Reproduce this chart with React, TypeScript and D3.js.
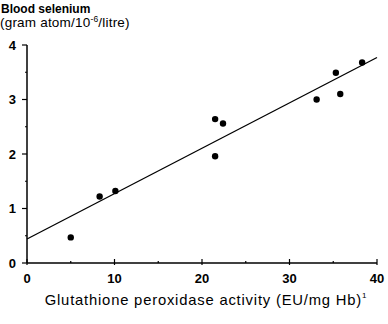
import React from "react";
import * as d3 from "d3";

const xValues = [5.0, 8.3, 10.1, 21.5, 22.4, 21.5, 33.1, 35.3, 35.8, 38.3];
const yValues = [0.47, 1.22, 1.32, 2.64, 2.56, 1.96, 3.0, 3.49, 3.1, 3.68];
const fitX = [0, 40];
const fitY = [0.44, 3.77];
const xTicks = [0, 10, 20, 30, 40];
const xMinor = [5, 15, 25, 35];
const yTicks = [0, 1, 2, 3, 4];
const yMinor = [0.5, 1.5, 2.5, 3.5];

export default function App() {
  const W = 388, H = 324;
  const x = d3.scaleLinear().domain([0, 40]).range([27, 377]);
  const y = d3.scaleLinear().domain([0, 4]).range([263, 45]);
  const font = "'Liberation Sans', Arial, sans-serif";
  const line = d3.line<number>().x((d) => x(fitX[d])).y((d) => y(fitY[d]));
  return (
    <svg width={W} height={H} style={{ position: "absolute", left: 0, top: 0, background: "#fff" }}>
      <text x={1} y={13} fontFamily={font} fontSize={12} fontWeight="bold" fill="#000">Blood selenium</text>
      <text x={0} y={27} fontFamily={font} fontSize={13.5} fill="#000" letterSpacing={0.2}>
        (gram atom/10<tspan dy={-5} fontSize={8.5}>-6</tspan><tspan dy={5}>/litre)</tspan>
      </text>
      {/* axes */}
      <line x1={x(0)} x2={x(0)} y1={y(0)} y2={y(4)} stroke="#000" strokeWidth={1.5} />
      <line x1={x(0)} x2={x(40)} y1={y(0)} y2={y(0)} stroke="#000" strokeWidth={1.5} />
      {yTicks.map((t) => (
        <g key={"y" + t}>
          <line x1={x(0) - 5} x2={x(0)} y1={y(t)} y2={y(t)} stroke="#000" strokeWidth={1.2} />
          <text x={16} y={y(t) + 4.5} textAnchor="end" fontFamily={font} fontSize={13} fontWeight="bold">{t}</text>
        </g>
      ))}
      {yMinor.map((t) => (
        <line key={"ym" + t} x1={x(0) - 2} x2={x(0)} y1={y(t)} y2={y(t)} stroke="#000" strokeWidth={1.2} />
      ))}
      {xTicks.map((t) => (
        <g key={"x" + t}>
          <line x1={x(t)} x2={x(t)} y1={y(0) - 4} y2={y(0) + 2} stroke="#000" strokeWidth={1.2} />
          <text x={x(t)} y={y(0) + 20} textAnchor="middle" fontFamily={font} fontSize={13} fontWeight="bold">{t}</text>
        </g>
      ))}
      {xMinor.map((t) => (
        <line key={"xm" + t} x1={x(t)} x2={x(t)} y1={y(0) - 2} y2={y(0)} stroke="#000" strokeWidth={1.2} />
      ))}
      <path d={line([0, 1]) || ""} stroke="#000" strokeWidth={1.3} fill="none" />
      {xValues.map((v, i) => (
        <circle key={i} cx={x(v)} cy={y(yValues[i])} r={3.2} fill="#000" />
      ))}
      <text x={206} y={305} textAnchor="middle" fontFamily={font} fontSize={14.8} fill="#000" letterSpacing={0.8}>
        Glutathione peroxidase activity (EU/mg Hb)<tspan dy={-7} fontSize={8}>1</tspan>
      </text>
    </svg>
  );
}
